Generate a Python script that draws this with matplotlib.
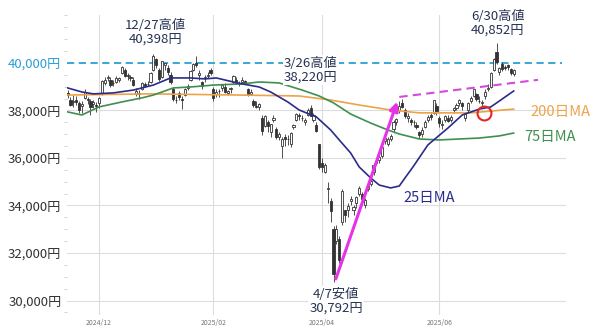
import numpy as np
import pandas as pd
import matplotlib
matplotlib.use('Agg')
import matplotlib.pyplot as plt
from matplotlib.ticker import MultipleLocator, FuncFormatter

plt.rcParams['font.family'] = ['Noto Sans CJK JP', 'DejaVu Sans']

# 東証の休場日（期間内）
holidays = ['2024-12-31', '2025-01-01', '2025-01-02', '2025-01-03', '2025-01-13',
            '2025-02-11', '2025-02-24', '2025-03-20', '2025-04-29', '2025-05-05', '2025-05-06']
dates = pd.bdate_range('2024-11-15', '2025-07-08', freq='C', holidays=holidays)

# 日足 (始値, 高値, 安値, 終値) 月ごと
opens = [
    38741, 38437, 38356, 38446, 38300, 38172, 38542, 38500, 38380, 38283, 38250,  # 11月
    38300, 38700, 39150, 39350, 39300, 39150, 39200, 39300, 39560, 39700, 39500,
    39400, 39300, 38700, 38750, 38900, 39100, 39100, 39200, 39700, 40150,  # 12月
    39700, 39400, 39900, 39800, 39500, 38900, 38450, 38750, 38500, 38650, 38950,
    39300, 39700, 40000, 39500, 39200, 39350, 39450, 39700,  # 1月
    38900, 38700, 38800, 38950, 39000, 38750, 38900, 39200, 39300, 39100, 39200,
    39250, 38900, 38700, 38400, 38200, 38150, 37700,  # 2月
    37350, 37500, 37100, 37600, 37200, 36900, 36500, 36900, 36800, 36600, 37300,
    37600, 37800, 37700, 37500, 37800, 38100, 37600, 37400, 36600,  # 3月
    35800, 35400, 34700, 34200, 33000, 32500, 32600, 33300, 33800, 33800, 34200,
    33800, 34100, 34500, 34500, 34000, 34700, 34900, 35400, 35800, 35900,  # 4月
    36100, 36700, 36600, 36800, 37200, 37500, 38000, 38300, 38000, 37700, 37600,
    37500, 37400, 37100, 37000, 37300, 37600, 37800, 37900, 38200,  # 5月
    37700, 37400, 37600, 37700, 37600, 38000, 38100, 38300, 38300, 37700, 38000,
    38400, 38600, 38700, 38400, 38300, 38600, 38900, 39000, 39700, 40450,  # 6月
    39600, 39950, 39850, 39900, 39750, 39550,  # 7月
]
highs = [
    38865, 38556, 38636, 38592, 38390, 38400, 38897, 38570, 38470, 38450, 38360,
    38550, 39280, 39400, 39500, 39420, 39300, 39450, 39420, 39870, 39780, 39560,
    39480, 39400, 38960, 38850, 39200, 39200, 39230, 39600, 40398, 40200,
    39800, 40100, 40000, 39900, 39600, 39000, 38600, 38800, 38600, 38950, 39100,
    39700, 40000, 40280, 39700, 39250, 39500, 39600, 39800,
    39000, 38900, 38900, 39100, 39150, 38850, 39000, 39500, 39400, 39250, 39400,
    39300, 38950, 38900, 38500, 38400, 38300, 37800,
    37800, 37600, 37450, 37800, 37300, 37100, 36900, 37000, 36950, 37100, 37450,
    37900, 37900, 37800, 37700, 38100, 38220, 37900, 37500, 36600,
    36000, 35800, 35000, 34300, 33150, 33200, 32700, 34700, 33800, 34100, 34400,
    34000, 34400, 34800, 34550, 34300, 35000, 35100, 35800, 36000, 36100,
    36500, 36900, 36900, 37000, 37600, 37700, 38400, 38500, 38100, 37900, 37700,
    37600, 37500, 37150, 37300, 37600, 37800, 37900, 38450, 38300,
    37750, 37600, 37800, 37800, 37800, 38150, 38300, 38500, 38350, 37950, 38350,
    38600, 38900, 38750, 38600, 38450, 38900, 39100, 39600, 40200, 40852,
    39850, 40050, 39900, 39950, 39800, 39750,
]
lows = [
    38516, 38185, 38150, 38232, 37910, 37880, 38500, 38260, 37800, 38090, 37920,
    38100, 38650, 39080, 39250, 38990, 39020, 39150, 39200, 39540, 39400, 39280,
    39250, 39050, 38600, 38500, 38880, 38980, 39050, 39150, 39650, 39800,
    39250, 39350, 39700, 39500, 39100, 38400, 38300, 38450, 38050, 38600, 38850,
    39250, 39650, 39850, 39300, 38900, 39200, 39350, 39500,
    38400, 38550, 38550, 38800, 38750, 38650, 38750, 39100, 39100, 39050, 39150,
    39100, 38600, 38650, 38150, 38100, 38000, 36950,
    37300, 37100, 36900, 37500, 36800, 36750, 35987, 36500, 36550, 36450, 37200,
    37550, 37600, 37550, 37400, 37750, 37750, 37500, 37100, 35526,
    35400, 35350, 34100, 33300, 30792, 32400, 31600, 33200, 33300, 33500, 34000,
    33600, 33900, 34400, 34200, 33900, 34600, 34800, 35300, 35700, 35800,
    36000, 36600, 36500, 36700, 37100, 37400, 37900, 38100, 37700, 37500, 37400,
    37300, 37200, 36850, 36900, 37250, 37500, 37600, 37850, 37800,
    37300, 37200, 37500, 37500, 37500, 37900, 38000, 38200, 38000, 37550, 37950,
    38300, 38550, 38400, 38300, 38100, 38500, 38800, 38950, 39650, 39950,
    39500, 39650, 39700, 39700, 39500, 39450,
]
closes = [
    38642, 38220, 38414, 38352, 38026, 38283, 38780, 38442, 38134, 38349, 38208,
    38513, 39248, 39276, 39395, 39091, 39160, 39367, 39372, 39849, 39470, 39457,
    39364, 39081, 38813, 38701, 39161, 39037, 39130, 39568, 40281, 39894,
    39307, 40083, 39981, 39605, 39190, 38474, 38444, 38572, 38451, 38902, 39027,
    39646, 39958, 39931, 39566, 39016, 39415, 39513, 39572,
    38520, 38798, 38831, 39066, 38787, 38801, 38963, 39461, 39149, 39174, 39270,
    39164, 38678, 38776, 38237, 38142, 38256, 37155,
    37785, 37331, 37418, 37704, 36887, 37028, 36793, 36819, 36790, 37053, 37396,
    37845, 37751, 37677, 37608, 38027, 37780, 37799, 37120, 35617,
    35624, 35725, 34736, 33780, 31136, 33012, 31714, 34609, 33585, 33982, 34267,
    33920, 34377, 34730, 34280, 34220, 34868, 35039, 35705, 35840, 36045,
    36452, 36831, 36780, 36928, 37503, 37644, 38183, 38128, 37755, 37753, 37498,
    37529, 37298, 36985, 37160, 37531, 37724, 37722, 38432, 37965,
    37470, 37446, 37747, 37554, 37741, 38089, 38211, 38421, 38173, 37834, 38311,
    38536, 38885, 38488, 38403, 38354, 38790, 38942, 39584, 40150, 40050,
    39790, 39762, 39785, 39810, 39587, 39688,
]

# 移動平均線（チャートから読み取り：営業日番号, 値）
ma25_idx = [0, 5, 9, 16, 23, 26, 30, 36, 43, 48, 52, 58, 61, 67, 71, 77, 81, 87, 92, 95,
            99, 102, 106, 109, 113, 116, 118, 121, 126, 133, 138, 144, 148, 151, 156]
ma25_val = [38950, 38780, 38700, 38740, 38860, 38950, 39070, 39370, 39370, 39330, 39370,
            39200, 39120, 38990, 38780, 38360, 38020, 37730, 37180, 36760, 36210, 35620,
            35160, 34860, 34740, 34820, 35160, 35660, 36550, 37260, 37810, 38060, 38150,
            38400, 38820]
ma75_idx = [0, 5, 11, 19, 26, 30, 37, 43, 51, 61, 67, 74, 82, 88, 93, 99, 106, 112,
            116, 123, 130, 137, 144, 151, 156]
ma75_val = [37940, 37810, 38150, 38360, 38530, 38650, 38950, 38990, 39070, 39120, 39200,
            39160, 38860, 38610, 38320, 37850, 37470, 37180, 37010, 36800, 36760, 36800,
            36840, 36930, 37050]
ma200_idx = [0, 29, 60, 81, 92, 102, 113, 123, 141, 156]
ma200_val = [38650, 38700, 38650, 38610, 38440, 38230, 38020, 37900, 37900, 38060]

ytick_vals = [30000, 32000, 34000, 36000, 38000, 40000]
xtick_dates = ['2024-12-02', '2025-02-03', '2025-04-01', '2025-06-02']
xtick_labels = ['2024/12', '2025/02', '2025/04', '2025/06']

x = np.arange(len(dates))
o, h, l, c = map(np.array, (opens, highs, lows, closes))

fig = plt.figure(figsize=(6, 3.29), dpi=100)
ax = fig.add_axes([67 / 600, 14 / 329, 499 / 600, 300 / 329])
ax.set_xlim(-0.2, 174.3)
ax.set_ylim(29390, 42020)

# グリッド
for v in ytick_vals[:-1]:
    ax.axhline(v, color='#dcdcdc', lw=0.8, zorder=0)
xt = [dates.get_loc(pd.Timestamp(d)) for d in xtick_dates]
for p in xt:
    ax.axvline(p, color='#dcdcdc', lw=0.8, zorder=0)

# ローソク足
up = c >= o
ink = '#333333'
ax.vlines(x, l, h, color=ink, lw=0.6, zorder=2)
ax.bar(x[up], c[up] - o[up], bottom=o[up], width=0.75, color='white', edgecolor=ink, lw=0.6, zorder=3)
ax.bar(x[~up], o[~up] - c[~up], bottom=c[~up], width=0.75, color=ink, edgecolor=ink, lw=0.6, zorder=3)

# 移動平均線
ax.plot(ma200_idx, ma200_val, color='#eea24a', lw=1.2, zorder=4)
ax.plot(ma75_idx, ma75_val, color='#3f8f4f', lw=1.2, zorder=4)
ax.plot(ma25_idx, ma25_val, color='#2b2b8c', lw=1.2, zorder=4)

# 40,000円ライン
ax.plot([-0.2, 173], [40000, 40000], color='#2aa0d6', lw=1.3, ls=(0, (4, 2.5)), zorder=1)

# 上値ライン・上昇矢印・交差
ax.plot([116, 164.5], [38570, 39290], color='#d24cd8', lw=1.5, ls=(0, (4, 2.5)), zorder=5)
ax.annotate('', xy=(115.6, 38480), xytext=(93.5, 30800),
            arrowprops=dict(arrowstyle='-|>', color='#e633e6', lw=2.2, mutation_scale=13), zorder=6)
ax.plot([145.6], [37900], marker='o', ms=10, mfc='none', mec='#e02828', mew=1.5, zorder=6)

# 注記
tc = '#263352'
ax.text(30.6, 41300, '12/27高値\n40,398円', ha='center', va='center', fontsize=9.5, color=tc, linespacing=1.1)
ax.text(85.1, 39700, '3/26高値\n38,220円', ha='center', va='center', fontsize=9.5, color=tc, linespacing=1.1,
        bbox=dict(facecolor='white', edgecolor='none', pad=1), zorder=7)
ax.text(150.5, 41660, '6/30高値\n40,852円', ha='center', va='center', fontsize=9.5, color=tc, linespacing=1.1)
ax.text(93.9, 29980, '4/7安値\n30,792円', ha='center', va='center', fontsize=9.5, color=tc, linespacing=1.1,
        bbox=dict(facecolor='white', edgecolor='none', pad=1), zorder=7)
ax.text(161.7, 37940, '200日MA', ha='left', va='center', fontsize=10.5, color='#eea24a')
ax.text(159.6, 36890, '75日MA', ha='left', va='center', fontsize=10.5, color='#3f8f4f')
ax.text(117.3, 34320, '25日MA', ha='left', va='center', fontsize=10.5, color='#2b2b8c')

# 軸
for s in ax.spines.values():
    s.set_visible(False)
ax.set_yticks(ytick_vals)
ax.yaxis.set_major_formatter(FuncFormatter(lambda v, p: f'{int(v):,}円'))
ax.yaxis.set_minor_locator(MultipleLocator(500))
ax.tick_params(axis='y', which='major', length=0, pad=4, labelsize=9.5, labelcolor='#333333')
ax.tick_params(axis='y', which='minor', length=2.5, color='#cccccc')
ax.get_yticklabels()[-1].set_color('#2aa0d6')
ax.set_xticks(xt)
ax.set_xticklabels(xtick_labels)
ax.tick_params(axis='x', length=0, pad=3, labelsize=5, labelcolor='#777777')

fig.savefig('out.png', dpi=100)
